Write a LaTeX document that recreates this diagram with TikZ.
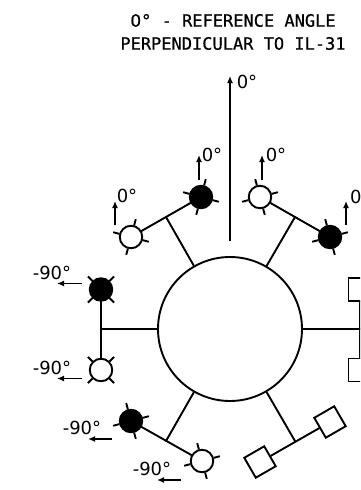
\documentclass[tikz,border=0pt]{standalone}
\usepackage{fontspec}
\setmainfont{DejaVu Sans}
\newfontfamily\titlefont[FakeBold=0.6]{DejaVu Sans Mono}
\newfontfamily\titledigit[FakeBold=0.6]{DejaVu Sans}
\usetikzlibrary{arrows.meta}
\tikzset{
  x=1pt,y=-1pt,
  wire/.style={line width=1.9pt,line cap=round},
  lampon/.style={circle,draw=black,fill=black,line width=1.9pt,minimum size=22.5pt,inner sep=0pt},
  lampoff/.style={circle,draw=black,fill=white,line width=1.9pt,minimum size=22.5pt,inner sep=0pt},
  hub/.style={circle,draw=black,line width=1.9pt,minimum size=144pt,inner sep=0pt},
  box/.style={rectangle,draw=black,fill=white,line width=1.9pt,minimum size=23pt,inner sep=0pt},
  ang/.style={inner sep=0pt,font=\fontsize{18}{19}\selectfont},
  ttl/.style={inner sep=0pt,font=\titlefont\fontsize{17}{20}\selectfont},
  dirarrow/.style={line width=1.9pt,-{Latex[length=7pt,width=6pt]}},
}
\newcommand{\lampticks}[2]{%
  \foreach \a in {0,90,180,270}{
    \draw[wire,line cap=butt] (#1.center) ++({#2+\a}:12pt) -- ++({#2+\a}:6.5pt);
  }}
\begin{document}
\begin{tikzpicture}
\useasboundingbox (0,0) rectangle (360,490);
\clip (0,0) rectangle (360,490);
\fill[white] (0,0) rectangle (360,490);

\node[ttl] (t1) at (233,20.5) {{\titledigit 0}° - REFERENCE ANGLE};
\node[ttl] (t2) at (233,43.5) {PERPENDICULAR TO IL-31};

\node[hub] (c) at (230,329) {};

% lamps
\node[lampoff] (tlw) at (131,237) {};
\node[lampon]  (tlb) at (201,197) {};
\node[lampoff] (trw) at (260,197) {};
\node[lampon]  (trb) at (330,237) {};
\node[lampon]  (lb)  at (101,289.5) {};
\node[lampoff] (lw)  at (101,370) {};
\node[lampon]  (blb) at (131,421) {};
\node[lampoff] (blw) at (202,461) {};

% squares
\node[box] (rs1) at (360,289.5) {};
\node[box] (rs2) at (360,370) {};
\node[box,rotate=30] (bs1) at (260,462) {};
\node[box,rotate=30] (bs2) at (330,422) {};

% junctions
\coordinate (jtl) at (166,217);
\coordinate (jtr) at (295,217);
\coordinate (jl) at (101,329);
\coordinate (jr) at (360,329);
\coordinate (jbl) at (166,441);
\coordinate (jbr) at (295,441);

\draw[wire] (tlw) -- (tlb);
\draw[wire] (trw) -- (trb);
\draw[wire] (lb) -- (lw);
\draw[wire] (blb) -- (blw);
\draw[wire] (rs1) -- (rs2);
\draw[wire] (bs1) -- (bs2);
\draw[wire] (c) -- (jtl);
\draw[wire] (c) -- (jtr);
\draw[wire] (c) -- (jl);
\draw[wire] (c) -- (jr);
\draw[wire] (c) -- (jbl);
\draw[wire] (c) -- (jbr);

\lampticks{tlw}{-15}
\lampticks{tlb}{-15}
\lampticks{trw}{15}
\lampticks{trb}{15}
\lampticks{lb}{45}
\lampticks{lw}{45}
\lampticks{blb}{15}
\lampticks{blw}{15}

% arrows
\coordinate (m0) at (230,241); \coordinate (m1) at (230,76);
\draw[dirarrow] (m0) -- (m1);
\node[ang] (l0) at (247,82) {0°};

\coordinate (a1s) at (115,225); \coordinate (a1e) at (115,201);
\draw[dirarrow] (a1s) -- (a1e);
\node[ang] (l1) at (127,196) {0°};
\coordinate (a2s) at (199,180); \coordinate (a2e) at (199,155);
\draw[dirarrow] (a2s) -- (a2e);
\node[ang] (l2) at (212,155) {0°};
\coordinate (a3s) at (262,180); \coordinate (a3e) at (262,155);
\draw[dirarrow] (a3s) -- (a3e);
\node[ang] (l3) at (276,155) {0°};
\coordinate (a4s) at (346,225); \coordinate (a4e) at (346,201);
\draw[dirarrow] (a4s) -- (a4e);
\node[ang,anchor=west] (l4) at (350,197) {0°};

\coordinate (b1s) at (82,283.5); \coordinate (b1e) at (57,283.5);
\draw[dirarrow] (b1s) -- (b1e);
\node[ang] (l5) at (52,273) {-90°};
\coordinate (b2s) at (82,378.5); \coordinate (b2e) at (57,378.5);
\draw[dirarrow] (b2s) -- (b2e);
\node[ang] (l6) at (52,368) {-90°};
\coordinate (b3s) at (112,439); \coordinate (b3e) at (88,439);
\draw[dirarrow] (b3s) -- (b3e);
\node[ang] (l7) at (82,428) {-90°};
\coordinate (b4s) at (181,480); \coordinate (b4e) at (157,480);
\draw[dirarrow] (b4s) -- (b4e);
\node[ang] (l8) at (152,469) {-90°};
\end{tikzpicture}
\end{document}
